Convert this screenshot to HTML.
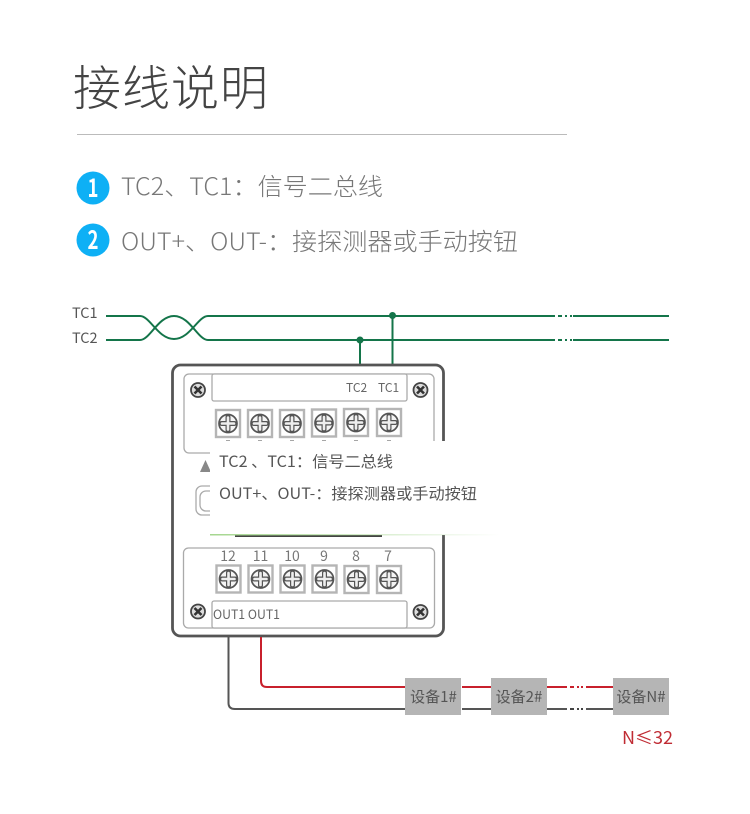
<!DOCTYPE html>
<html lang="zh"><head><meta charset="utf-8"><style>
html,body{margin:0;padding:0;background:#fff}
svg{display:block}
text{font-family:"Noto Sans CJK SC","Liberation Sans",sans-serif}
</style></head><body>
<svg width="750" height="814" viewBox="0 0 750 814" xmlns="http://www.w3.org/2000/svg">
<defs>
<linearGradient id="gl" x1="0" x2="1" y1="0" y2="0"><stop offset="0" stop-color="#a5d68f"/><stop offset="1" stop-color="#a5d68f" stop-opacity="0"/></linearGradient>
<g id="t"><rect x="-12" y="-13.500" width="24" height="27" fill="#fff" stroke="#b5b5b5" stroke-width="2.400"/><circle r="9" fill="#f4f4f4" stroke="#555" stroke-width="1.700"/><path d="M-6.500 0H6.500M0-6.500V6.500" stroke="#555" stroke-width="5" stroke-linecap="round"/><path d="M-6 0H6M0-6V6" stroke="#eee" stroke-width="2.600" stroke-linecap="round"/></g>
<g id="s"><circle r="7" fill="#ddd" stroke="#444" stroke-width="1.800"/><path d="M-3.500-3.500L3.500 3.500M3.500-3.500L-3.500 3.500" stroke="#333" stroke-width="2.600"/></g>
</defs>
<text x="73" y="105" font-size="48" font-weight="300" fill="#444" textLength="195">接线说明</text>
<rect x="77" y="134" width="490" height="1" fill="#bbb"/>
<circle cx="93" cy="188" r="16.500" fill="#0eb0f5"/>
<circle cx="93" cy="240" r="16.500" fill="#0eb0f5"/>
<text x="93" y="197" font-size="25" font-weight="700" fill="#fff" text-anchor="middle" textLength="11" lengthAdjust="spacingAndGlyphs">1</text>
<text x="93" y="249" font-size="25" font-weight="700" fill="#fff" text-anchor="middle" textLength="11" lengthAdjust="spacingAndGlyphs">2</text>
<text x="121" y="195" font-size="24" font-weight="300" fill="#777" textLength="262" lengthAdjust="spacingAndGlyphs">TC2、TC1：信号二总线</text>
<text x="121" y="250" font-size="24" font-weight="300" fill="#777" textLength="397" lengthAdjust="spacingAndGlyphs">OUT+、OUT-：接探测器或手动按钮</text>

<g fill="#555" font-size="14.500">
<text x="72" y="318">TC1</text><text x="72" y="343">TC2</text>
</g>
<g fill="none" stroke="#14754a" stroke-width="2">
<path d="M106 316H140C150 316 158 339 174 339C190 339 198 316 208 316H555M573 316H669"/>
<path d="M106 340H140C150 340 158 316 174 316C190 316 198 340 208 340H555M573 340H669"/>
<path d="M360 340V365M392.500 316V365"/>
<path d="M558 316H562M565 316H567M570 316H572M558 340H562M565 340H567M570 340H572"/>
</g>
<circle cx="392.500" cy="315.500" r="3.500" fill="#14754a"/>
<circle cx="360" cy="340" r="3.500" fill="#14754a"/>

<rect x="172.500" y="365" width="271" height="271" rx="8" fill="#fff" stroke="#555" stroke-width="2.800"/>
<rect x="184" y="374" width="250" height="79" rx="5" fill="#fff" stroke="#aaa" stroke-width="1.300"/>
<rect x="212" y="374" width="195" height="27" rx="2" fill="#fff" stroke="#aaa" stroke-width="1.300"/>
<use href="#s" x="198" y="390"/><use href="#s" x="420.500" y="390"/>
<text x="346" y="392" font-size="12" fill="#666">TC2</text><text x="378" y="392" font-size="12" fill="#666">TC1</text>
<use href="#t" x="228" y="423.500"/><use href="#t" x="260" y="423.500"/><use href="#t" x="292" y="423.500"/><use href="#t" x="324" y="423"/><use href="#t" x="356" y="422.500"/><use href="#t" x="389" y="422.500"/>
<path d="M226 441h4M258 441h4M290 441h4M322 441h4M354 441h4M387 441h4" stroke="#888" stroke-width="1.500"/>

<path d="M200 472H211L205.500 460Z" fill="#888"/>
<rect x="196" y="486" width="30" height="29" rx="6" fill="#fff" stroke="#aaa" stroke-width="1.300"/>
<rect x="200" y="491" width="20" height="20" rx="6" fill="#fff" stroke="#aaa" stroke-width="1.300"/>
<rect x="235" y="534" width="147" height="3" fill="#444"/>

<rect x="210" y="441" width="300" height="94" fill="#fff"/>
<rect x="210" y="534" width="290" height="1.500" fill="url(#gl)"/>
<text x="219" y="467" font-size="15.500" fill="#555" textLength="174" lengthAdjust="spacingAndGlyphs">TC2 、TC1：信号二总线</text>
<text x="219" y="499" font-size="15.500" fill="#555" textLength="258" lengthAdjust="spacingAndGlyphs">OUT+、OUT-：接探测器或手动按钮</text>

<rect x="183.500" y="548" width="251" height="80" rx="5" fill="#fff" stroke="#aaa" stroke-width="1.300"/>
<rect x="212" y="601" width="195" height="27" rx="2" fill="#fff" stroke="#aaa" stroke-width="1.300"/>
<g font-size="14" fill="#777" text-anchor="middle">
<text x="228" y="561">12</text><text x="260.500" y="561">11</text><text x="292" y="561">10</text><text x="324" y="561">9</text><text x="356" y="561">8</text><text x="388" y="561">7</text>
</g>
<use href="#t" x="228.500" y="579"/><use href="#t" x="260.500" y="579"/><use href="#t" x="292.500" y="579"/><use href="#t" x="324.500" y="579"/><use href="#t" x="356.500" y="579.500"/><use href="#t" x="389" y="579.500"/>
<use href="#s" x="198" y="611.500"/><use href="#s" x="420.500" y="612"/>
<text x="213" y="619" font-size="12.500" fill="#666" textLength="67" lengthAdjust="spacingAndGlyphs">OUT1 OUT1</text>

<g fill="none" stroke-width="2">
<path d="M261 637V681Q261 687 267 687H407M462 687H491M546 687H567M586 687H613" stroke="#c8202c"/>
<path d="M228.500 637V703Q228.500 709 235 709H407M462 709H491M546 709H567M586 709H613" stroke="#555"/>
<path d="M570 687H574M577 687H579M581 687H583" stroke="#c8202c"/>
<path d="M570 709H574M577 709H579M581 709H583" stroke="#444"/>
</g>
<g fill="#b5b5b5"><rect x="405" y="678" width="56" height="37"/><rect x="491" y="678" width="56" height="37"/><rect x="613" y="678" width="56" height="37"/></g>
<g font-size="15" fill="#555" text-anchor="middle">
<text x="433.500" y="702">设备1#</text><text x="519" y="702">设备2#</text><text x="641" y="702">设备N#</text>
</g>
<text x="622" y="744" font-size="17.500" fill="#c02c34" textLength="51" lengthAdjust="spacingAndGlyphs">N≤32</text>
</svg>
</body></html>
